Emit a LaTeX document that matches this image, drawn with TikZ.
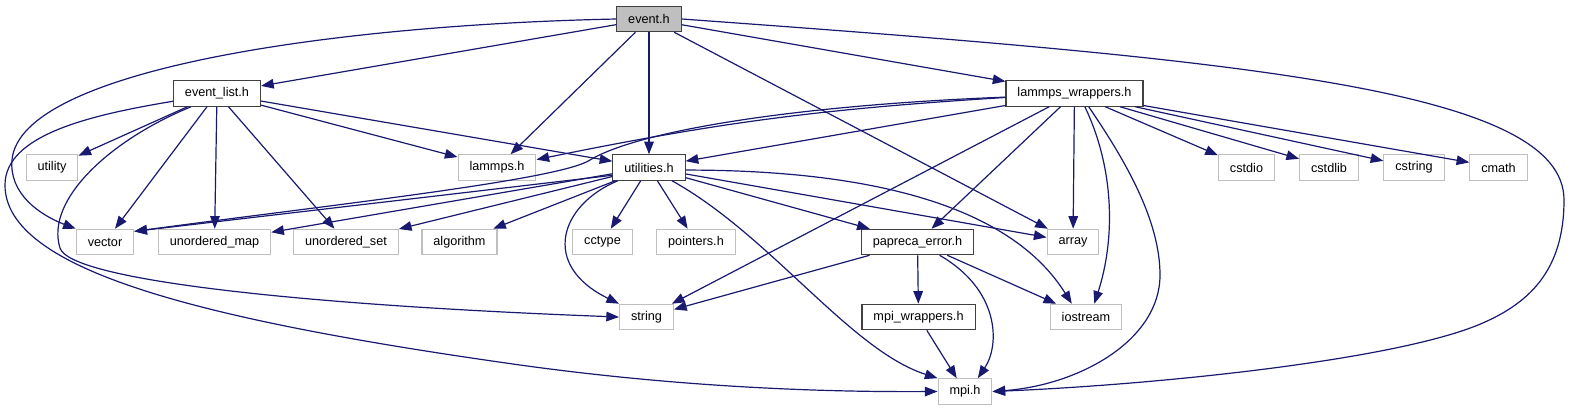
\documentclass[tikz,border=0pt]{standalone}
\usepackage{fontspec}
\setmainfont{Liberation Sans}
\usetikzlibrary{arrows.meta}

\definecolor{navy}{HTML}{191970}

\begin{document}
\begin{tikzpicture}[
  x=0.75pt, y=-0.75pt,
  file/.style={rectangle,draw,fill=white,line width=0.8pt,inner xsep=8.6pt,inner ysep=0pt,
    minimum height=19.1pt,font=\fontsize{9.5}{11}\selectfont},
  doc/.style={file,draw=black!75},
  ext/.style={file,draw=black!25},
  root/.style={doc,fill=black!25},
  edge/.style={draw=navy,line width=0.9pt,-{Triangle[length=9.5pt,width=7.2pt]}}
]
  \useasboundingbox (0,0) rectangle (1571,411);

  % files
  \node[root] (eventh) at (649,19) {event.h};
  \node[doc] (evlist) at (217,93.5) {event\_list.h};
  \node[doc] (lmpwrap) at (1074.5,93.5) {lammps\_wrappers.h};
  \node[ext] (utility) at (52,167.5) {utility};
  \node[ext] (lammpsh) at (497,167.5) {lammps.h};
  \node[doc] (utils) at (649,167.5) {utilities.h};
  \node[ext] (cstdio) at (1246.5,167.5) {cstdio};
  \node[ext] (cstdlib) at (1329,167.5) {cstdlib};
  \node[ext] (cstring) at (1414,167.5) {cstring};
  \node[ext] (cmath) at (1498.5,167.5) {cmath};
  \node[ext] (vector) at (105,242) {vector};
  \node[ext] (umap) at (214.5,242) {unordered\_map};
  \node[ext] (uset) at (346,242) {unordered\_set};
  \node[ext] (algorithm) at (459.5,242) {algorithm};
  \node[ext] (cctype) at (602.5,242) {cctype};
  \node[ext] (pointers) at (696,242) {pointers.h};
  \node[doc] (papreca) at (917.5,242) {papreca\_error.h};
  \node[ext] (array) at (1073,242) {array};
  \node[ext] (string) at (646.5,317) {string};
  \node[doc] (mpiwrap) at (918.5,317) {mpi\_wrappers.h};
  \node[ext] (iostream) at (1086,317) {iostream};
  \node[ext] (mpih) at (965,391.5) {mpi.h};

  % event.h
  \draw[edge] (eventh) -- (evlist);
  \draw[edge] (eventh) -- (lmpwrap);
  \draw[edge] (eventh) -- (lammpsh);
  \draw[edge] (eventh) -- (utils);
  \draw[edge] (eventh) -- (array);
  \draw[edge] (eventh.east) .. controls (1250,60) and (1564,90) .. (1564,200)
    .. controls (1564,270) and (1530,305) .. (1473,327)
    .. controls (1380,362) and (1150,385) .. (mpih.east);
  \draw[edge] (eventh.west) .. controls (330,25) and (20,70) .. (12,160)
    .. controls (9,194) and (40,215) .. (vector.north west);

  % event_list.h
  \draw[edge] (evlist) -- (utility);
  \draw[edge] (evlist) -- (vector);
  \draw[edge] (evlist) -- (umap);
  \draw[edge] (evlist) -- (uset);
  \draw[edge] (evlist) -- (lammpsh);
  \draw[edge] (evlist) -- (utils);
  \draw[edge] (evlist.207) .. controls (110,140) and (45,200) .. (60,248)
    .. controls (70,280) and (300,305) .. (string.west);
  \draw[edge] (evlist.190) .. controls (90,115) and (5,135) .. (5,185)
    .. controls (5,270) and (200,320) .. (520,365)
    .. controls (700,390) and (850,392) .. (mpih.west);

  % lammps_wrappers.h
  \draw[edge] (lmpwrap) to[bend right=4] (lammpsh);
  \draw[edge] (lmpwrap) -- (utils);
  \draw[edge] (lmpwrap.183) .. controls (800,105) and (640,130) .. (590,160)
    .. controls (560,180) and (330,205) .. (vector.20);
  \draw[edge] (lmpwrap) -- (string);
  \draw[edge] (lmpwrap) -- (papreca);
  \draw[edge] (lmpwrap) -- (array);
  \draw[edge] (lmpwrap.-52) .. controls (1115,170) and (1115,240) .. (iostream.58);
  \draw[edge] (lmpwrap.-43) .. controls (1125,160) and (1160,220) .. (1160,275)
    .. controls (1160,340) and (1080,385) .. (mpih.east);
  \draw[edge] (lmpwrap) -- (cstdio);
  \draw[edge] (lmpwrap) -- (cstdlib);
  \draw[edge] (lmpwrap) -- (cstring);
  \draw[edge] (lmpwrap) -- (cmath);

  % utilities.h
  \draw[edge] (utils.192) -- (vector.20);
  \draw[edge] (utils) -- (umap);
  \draw[edge] (utils) -- (uset);
  \draw[edge] (utils) -- (algorithm);
  \draw[edge] (utils) -- (cctype);
  \draw[edge] (utils) -- (pointers);
  \draw[edge] (utils) -- (papreca);
  \draw[edge] (utils) -- (array);
  \draw[edge] (utils.-4) .. controls (870,170) and (1010,205) .. (iostream.137);
  \draw[edge] (utils.203) .. controls (560,205) and (540,265) .. (string.north west);
  \draw[edge] (utils.-30) .. controls (770,235) and (850,350) .. (mpih.north west);

  % papreca_error.h
  \draw[edge] (papreca) -- (string);
  \draw[edge] (papreca) -- (mpiwrap);
  \draw[edge] (papreca) -- (iostream);
  \draw[edge] (papreca.-31) .. controls (1000,290) and (1000,345) .. (mpih.46);
  \draw[edge] (mpiwrap) -- (mpih);
\end{tikzpicture}
\end{document}
